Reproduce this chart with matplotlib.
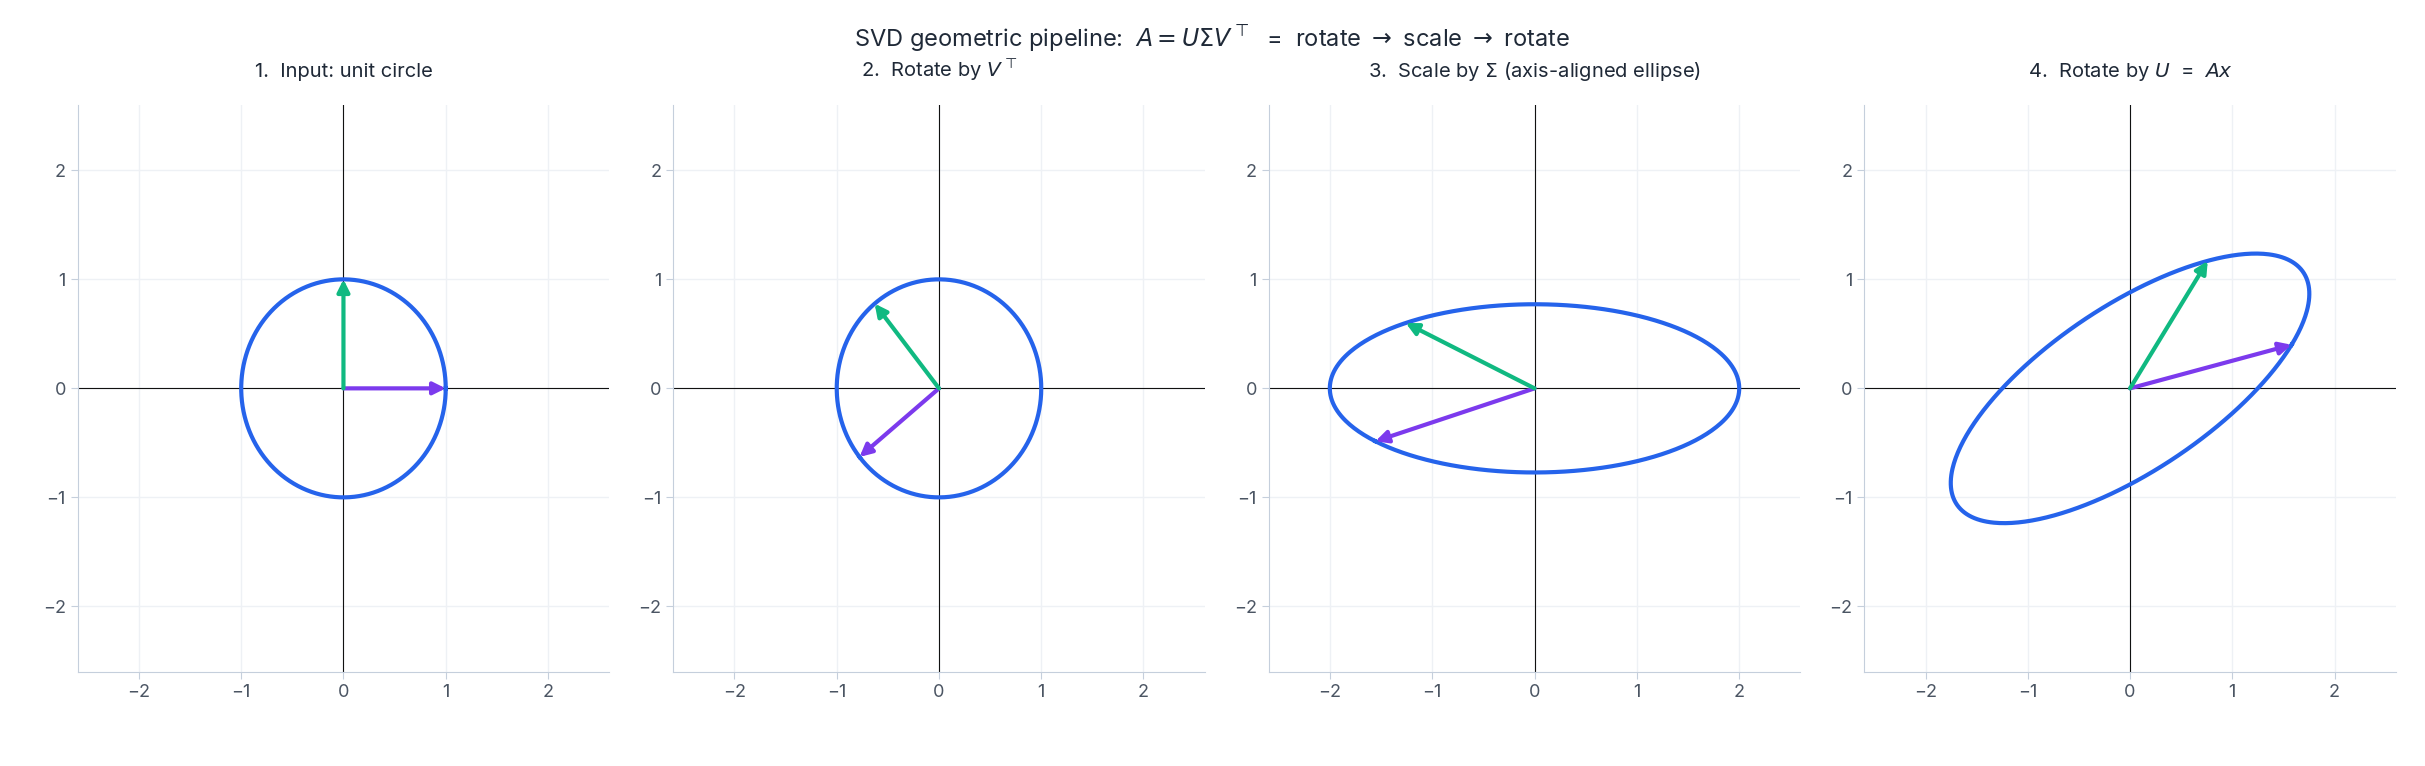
import numpy as np
import matplotlib
matplotlib.use("Agg")
import matplotlib.pyplot as plt
plt.rcParams['font.family'] = ['Inter', 'DejaVu Sans']

A = np.array([[1.58, 0.76], [0.40, 1.17]])
titles = ["1.  Input: unit circle", r"2.  Rotate by $V^\top$",
          r"3.  Scale by $\Sigma$ (axis-aligned ellipse)", r"4.  Rotate by $U$  =  $Ax$"]
ticks = [-2, -1, 0, 1, 2]

U, S, Vt = np.linalg.svd(A)
if Vt[0, 0] > 0:
    Vt = -Vt; U = -U
if Vt[1, 1] < 0:
    Vt[1, :] *= -1; U[:, 1] *= -1
mats = [np.eye(2), Vt, np.diag(S) @ Vt, U @ np.diag(S) @ Vt]

t = np.linspace(0, 2*np.pi, 400)
circ = np.vstack([np.cos(t), np.sin(t)])
blue, purple, green = "#2563eb", "#7c3aed", "#10b981"

fig, axes = plt.subplots(1, 4, figsize=(24.25, 7.66), dpi=100)
fig.subplots_adjust(left=0.032, right=0.988, top=0.863, bottom=0.123, wspace=0.12)
fig.suptitle(r"SVD geometric pipeline:  $A = U\Sigma V^\top$  =  rotate $\rightarrow$ scale $\rightarrow$ rotate",
             fontsize=17, color="#1f2937", y=0.97)
for ax, M, ti in zip(axes, mats, titles):
    p = M @ circ
    ax.plot(p[0], p[1], color=blue, lw=3, zorder=3)
    for v, c in [(M[:, 0], purple), (M[:, 1], green)]:
        ax.annotate("", xy=(v[0], v[1]), xytext=(0, 0),
                    arrowprops=dict(arrowstyle="-|>", color=c, lw=3, mutation_scale=18, shrinkA=0, shrinkB=0), zorder=4)
    ax.axhline(0, color="#111", lw=0.8, zorder=2)
    ax.axvline(0, color="#111", lw=0.8, zorder=2)
    ax.set_xlim(-2.6, 2.6); ax.set_ylim(-2.6, 2.6)
    ax.set_xticks(ticks); ax.set_yticks(ticks)
    ax.set_xticklabels([f"−{abs(k)}" if k < 0 else str(k) for k in ticks])
    ax.set_yticklabels([f"−{abs(k)}" if k < 0 else str(k) for k in ticks])
    ax.grid(color="#eef1f5", lw=1)
    ax.set_axisbelow(True)
    for s in ["top", "right"]:
        ax.spines[s].set_visible(False)
    for s in ["left", "bottom"]:
        ax.spines[s].set_color("#c5cfdc")
    ax.tick_params(colors="#4b5563", labelsize=13, length=5, color="#c5cfdc")
    ax.set_title(ti, fontsize=14.5, color="#1f2937", pad=20)
fig.savefig("out.png")
